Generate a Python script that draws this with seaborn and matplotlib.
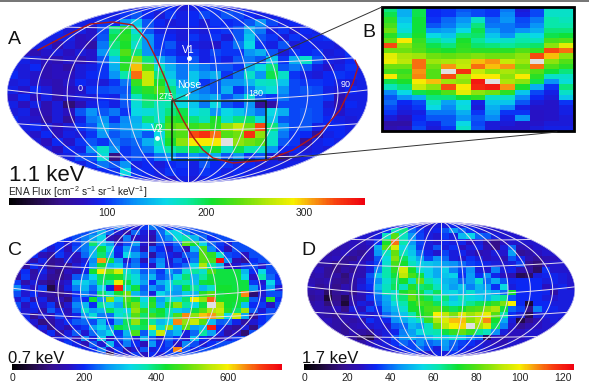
import numpy as np
import seaborn as sns
import matplotlib
matplotlib.use('Agg')
import matplotlib.pyplot as plt
from matplotlib.colors import LinearSegmentedColormap
from matplotlib.patches import Ellipse, Rectangle

sns.set_theme(style='white')
plt.rcParams['font.family'] = ['Liberation Sans', 'DejaVu Sans']
plt.rcParams['mathtext.default'] = 'regular'

# 1.1 keV flux
flux_a = [
    [90,90,90,90,90,90,90,90, 90,90,90,90,95,100,95,85, 90,95,100,90,90,90,90,90, 90,90,90,90,90,90,90,90],
    [90,90,90,90,90,90,90,90, 90,90,100,110,95,85,100,90, 95,105,100,110,105,95,90,90, 90,90,90,90,90,90,90,90],
    [90,90,90,90,90,95,90,90, 100,95,130,150,110,95,85,90, 95,85,100,95,100,110,130,105, 90,95,90,90,90,90,90,90],
    [90,90,90,90,95,85,90,80, 105,190,210,165,110,90,90,85, 90,85,95,100,110,140,120,90, 100,85,95,90,90,90,90,90],
    [90,90,90,90,90,90,75,80, 110,200,215,180,130,100,95,85, 100,90,100,85,110,150,110,100, 85,100,90,95,100,90,90,90],
    [90,85,90,90,70,85,75,65, 120,190,210,170,130,100,110,90, 90,85,80,100,120,160,100,90, 110,85,95,90,90,85,90,90],
    [90,75,70,80,85,75,85,80, 130,180,230,190,130,105,100,90, 100,90,105,100,100,130,140,110, 85,100,95,100,85,90,100,90],
    [90,90,85,75,70,80,70,80, 110,150,210,250,190,140,120,100, 110,90,100,90,110,120,110,150, 100,140,170,110,90,85,95,90],
    [90,85,95,70,75,65,85,90, 100,140,215,300,230,170,140,120, 130,120,110,110,100,140,160,190, 110,120,110,90,80,90,100,90],
    [95,85,80,70,75,75,85,95, 100,130,180,320,270,190,150,120, 150,130,140,100,120,170,130,200, 170,100,90,85,95,100,95,90],
    [85,90,80,75,70,80,95,90, 85,100,120,220,270,210,170,130, 150,100,110,130,130,145,170,175, 150,105,100,100,95,90,85,90],
    [90,80,95,85,70,75,80,100, 105,110,110,200,215,230,190,150, 130,120,110,140,100,120,150,165, 130,105,110,105,90,85,95,90],
    [80,95,75,90,70,80,85,85, 95,90,115,175,200,205,185,165, 140,130,140,110,125,165,110,100, 120,105,105,105,100,70,90,90],
    [90,75,90,70,85,45,70,90, 100,90,110,165,190,175,180,160, 150,120,160,110,100,130,60,65, 105,105,105,105,85,70,95,90],
    [85,90,75,70,85,75,110,130, 110,120,100,160,165,170,190,200, 160,170,130,160,150,135,120,160, 140,105,110,105,90,80,90,90],
    [95,85,80,65,85,60,90,120, 130,100,125,140,190,170,215,210, 190,175,210,170,190,195,165,150, 110,105,110,105,95,90,85,90],
    [90,90,95,85,75,85,100,110, 140,120,130,145,160,190,230,240, 220,230,215,250,270,240,330,190, 130,105,110,90,95,95,90,90],
    [90,85,80,95,75,90,85,100, 130,110,120,130,110,160,220,230, 330,340,320,230,240,340,250,170, 120,100,95,60,90,95,90,90],
    [90,90,85,75,95,80,100,110, 100,120,110,115,140,170,210,250, 290,290,290,400,250,240,230,170, 110,100,60,90,95,90,90,90],
    [85,90,95,85,75,95,90,130, 170,130,100,110,120,160,180,190, 200,190,210,170,200,180,170,130, 95,95,85,90,85,90,90,90],
    [90,85,90,95,85,90,105,110, 165,50,100,110,100,120,130,110, 130,120,140,110,130,100,110,85, 60,85,90,95,90,90,90,90],
    [90,90,85,95,90,100,90,100, 120,110,130,90,95,85,95,100, 90,110,95,100,90,95,85,90, 90,90,90,90,90,90,90,90],
    [90,90,90,90,90,90,90,90, 95,100,160,100,95,90,100,95, 90,100,95,90,95,90,90,90, 90,90,90,90,90,90,90,90],
    [90,90,90,90,90,90,90,90, 90,90,90,95,90,85,80,90, 85,90,95,90,90,90,90,90, 90,90,90,90,90,90,90,90],
]

# 0.7 keV flux, panel C
flux_c = [
    [220,220,220,220,220,220,220,220, 220,220,220,220,250,200,170,210, 250,230,200,220,220,220,220,220, 220,220,220,220,220,220,220,220],
    [220,220,220,220,220,220,220,220, 220,250,300,240,170,140,240,180, 160,240,320,330,260,220,220,220, 220,220,220,220,220,220,220,220],
    [220,220,220,220,220,220,200,220, 250,280,330,150,130,250,160,170, 140,230,260,340,370,300,240,200, 220,220,220,220,220,220,220,220],
    [220,220,220,220,190,200,170,210, 250,400,330,280,170,220,280,170, 130,220,200,240,480,430,330,240, 210,180,220,220,220,220,220,220],
    [220,220,220,210,170,200,150,220, 250,300,420,340,200,280,230,150, 230,200,160,220,150,300,470,260, 200,150,220,220,220,220,220,220],
    [220,220,200,150,130,210,170,160, 240,300,400,300,190,330,280,230, 130,220,190,170,230,240,480,450, 350,220,210,160,220,220,220,220],
    [200,170,140,190,120,130,180,150, 180,260,640,420,280,170,240,150, 220,260,170,230,190,250,480,470, 730,260,150,120,200,220,220,220],
    [190,130,200,170,110,140,120,170, 200,280,420,300,320,220,250,200, 160,270,180,210,240,330,540,380, 300,150,170,210,220,170,220,220],
    [160,200,130,190,140,100,160,140, 190,430,590,500,570,350,300,230, 250,210,280,240,350,380,350,470, 420,420,420,300,200,330,220,220],
    [130,210,140,170,120,110,140,230, 250,330,410,420,440,380,340,260, 300,220,250,330,400,300,380,420, 420,420,420,330,160,370,240,200],
    [210,140,180,130,100,150,170,300, 320,290,400,380,590,420,340,280, 200,290,320,380,370,310,420,430, 420,420,420,420,210,170,330,210],
    [260,190,160,210,60,130,190,250, 300,240,330,190,720,360,420,230, 270,240,320,280,420,380,300,350, 430,430,420,420,270,190,290,170],
    [220,170,200,150,130,110,140,200, 260,220,400,350,430,500,300,250, 180,330,290,270,320,300,440,480, 420,430,430,650,90,170,220,220],
    [170,210,140,190,120,150,100,220, 200,430,270,520,340,470,420,330, 430,280,350,340,400,590,520,670, 430,430,430,430,230,190,450,200],
    [220,160,200,170,210,120,170,260, 300,200,380,330,290,440,500,360, 450,300,420,510,380,330,420,800, 540,430,420,310,200,210,160,220],
    [210,170,190,140,230,190,150,240, 350,280,300,410,360,330,520,450, 400,430,370,320,300,420,480,540, 560,440,400,530,230,170,220,210],
    [220,190,120,170,150,210,160,190, 270,340,250,240,340,370,480,400, 460,420,380,470,650,520,620,640, 540,330,560,290,120,200,220,220],
    [220,200,170,100,130,170,200,230, 240,220,300,200,280,410,520,420, 380,300,330,650,520,560,480,300, 230,240,190,130,170,200,220,220],
    [220,220,150,190,110,170,140,190, 210,280,330,270,420,400,390,410, 560,350,520,320,480,280,300,720, 200,150,120,180,100,220,220,220],
    [220,220,210,160,200,130,180,230, 170,240,290,330,210,300,470,230, 340,560,260,300,180,240,380,280, 190,130,160,90,220,220,220,220],
    [220,220,220,190,150,180,200,150, 260,180,320,160,220,270,180,300, 230,170,240,200,170,310,200,170, 150,180,210,220,220,220,220,220],
    [220,220,220,220,220,170,210,190, 150,230,170,300,190,250,200,150, 270,190,220,160,260,220,170,200, 220,220,220,220,220,220,220,220],
    [220,220,220,220,220,220,220,220, 190,200,250,160,210,140,170,230, 180,200,210,650,220,190,220,220, 220,220,220,220,220,220,220,220],
    [220,220,220,220,220,220,220,220, 220,220,220,60,190,170,210,160, 200,170,210,220,220,220,220,220, 220,220,220,220,220,220,220,220],
]

# 1.7 keV flux, panel D
flux_d = [
    [28,28,28,28,28,28,28,28, 30,30,30,35,33,30,28,30, 30,32,30,30,28,28,28,28, 28,28,28,28,28,28,28,28],
    [28,28,28,28,28,28,28,28, 28,35,60,65,40,35,30,32, 38,45,40,35,30,28,28,28, 28,28,28,28,28,28,28,28],
    [28,28,28,28,28,28,28,28, 30,60,80,60,45,36,30,28, 35,30,50,55,40,38,30,28, 28,28,28,28,28,28,28,28],
    [28,28,28,26,24,26,25,28, 34,72,110,62,45,36,30,28, 32,30,32,26,30,22,18,26, 28,28,28,28,28,28,28,28],
    [28,26,24,22,24,26,24,26, 48,80,95,55,50,35,30,38, 30,34,26,30,32,24,18,30, 40,24,26,28,28,28,28,28],
    [26,26,22,24,26,22,20,26, 45,60,82,60,52,40,32,28, 36,30,32,28,24,26,30,28, 46,20,22,26,28,28,28,28],
    [24,22,24,26,20,18,24,26, 38,56,85,68,56,48,36,44, 40,30,28,34,30,26,28,24, 38,32,24,20,24,26,28,28],
    [24,22,22,18,20,24,26,30, 36,58,78,72,60,54,52,50, 46,44,40,36,34,32,30,28, 30,36,20,16,26,28,28,28],
    [24,26,20,18,22,20,24,30, 42,62,75,95,72,58,54,48, 54,42,36,44,30,28,42,30, 32,24,22,14,34,28,28,28],
    [22,24,20,22,16,24,24,38, 52,62,70,92,78,70,54,48, 52,54,34,46,34,44,32,26, 24,12,14,30,32,32,30,28],
    [24,22,24,20,18,22,28,36, 44,58,66,72,60,82,62,56, 50,48,40,46,58,40,48,38, 32,33,33,33,30,32,30,28],
    [26,20,22,18,24,22,30,34, 50,60,68,60,74,66,68,60, 52,46,52,42,50,46,34,56, 30,33,33,33,26,30,32,28],
    [22,24,14,20,22,18,26,30, 44,62,58,72,78,70,60,68, 54,56,50,58,50,52,48,40, 72,33,33,33,32,22,30,30],
    [20,22,8,18,12,22,24,34, 40,48,62,66,82,74,68,60, 66,52,60,56,54,50,58,64, 38,33,33,33,30,28,30,30],
    [22,24,16,20,8,24,30,28, 38,46,56,62,72,78,76,68, 62,56,58,64,68,70,76,84, 100,33,8,33,33,30,30,30],
    [24,24,22,26,18,30,26,36, 32,44,50,58,72,72,78,80, 74,68,72,78,80,86,90,70, 40,36,18,42,33,32,30,30],
    [26,24,22,20,24,26,30,28, 30,40,46,52,62,72,76,100, 92,84,96,88,92,98,80,62, 34,30,12,30,30,30,30,28],
    [26,24,26,22,24,22,24,34, 30,32,44,48,54,60,76,90, 96,104,104,86,92,108,72,48, 30,10,18,24,28,30,28,28],
    [26,26,24,22,20,24,26,28, 30,28,38,40,50,46,60,82, 92,100,102,140,88,96,68,42, 28,20,24,26,28,28,28,28],
    [28,26,24,22,20,24,22,20, 28,30,32,42,46,56,60,62, 70,76,82,76,64,60,44,30, 26,26,28,28,28,28,28,28],
    [28,28,26,22,24,20,14,10, 24,30,38,44,48,44,50,56, 52,58,52,44,40,12,26,22, 24,26,28,28,28,28,28,28],
    [28,28,26,26,24,26,22,26, 28,30,34,40,36,44,40,42, 46,40,36,34,30,28,26,24, 28,28,28,28,28,28,28,28],
    [28,28,28,28,28,28,28,28, 28,28,30,34,36,40,36,30, 44,38,34,30,30,28,28,28, 28,28,28,28,28,28,28,28],
    [28,28,28,28,28,28,28,28, 28,28,28,30,34,30,28,32, 30,34,30,28,28,28,28,28, 28,28,28,28,28,28,28,28],
]

# zoomed box, panel B
flux_b = [
    [190,140,200,95,100,110,105,100,120,85,105,170,170],
    [200,140,200,95,100,115,105,100,125,90,105,170,170],
    [215,150,205,100,115,130,170,115,130,105,120,180,175],
    [225,160,205,110,120,140,190,120,120,110,130,180,180],
    [240,165,205,130,135,160,200,135,120,130,140,190,190],
    [215,185,210,160,150,190,195,150,130,170,160,200,205],
    [235,290,220,185,170,210,185,165,170,180,175,225,230],
    [330,250,225,200,190,215,195,190,185,190,195,250,280],
    [240,240,230,215,210,220,215,215,215,230,220,330,320],
    [280,260,255,240,235,240,245,240,240,250,330,300,250],
    [285,265,320,255,260,265,300,310,270,255,400,250,230],
    [240,240,320,240,310,270,320,300,310,240,320,230,215],
    [225,220,310,230,400,340,270,250,260,250,230,205,190],
    [290,230,315,230,330,260,290,290,250,290,215,170,170],
    [200,210,290,300,255,250,350,400,260,250,200,130,165],
    [175,190,270,250,330,290,345,350,310,210,140,100,190],
    [125,160,200,210,230,280,250,240,215,150,105,90,170],
    [110,130,140,190,190,205,215,170,170,125,95,85,150],
    [115,95,105,170,135,160,90,150,150,110,85,80,100],
    [105,90,100,160,125,165,85,140,125,90,80,80,90],
    [100,85,90,120,120,140,100,135,100,100,78,80,90],
    [85,75,95,110,110,130,110,125,90,130,78,80,85],
    [65,65,100,90,110,160,105,85,85,80,80,85,85],
    [70,75,105,85,100,170,110,85,80,80,85,90,90],
]

ticks_a = [100, 200, 300]
ticks_c = [0, 200, 400, 600]
ticks_d = [0, 20, 40, 60, 80, 100, 120]

# dark red curve over panel A, figure pixels
ribbon_x = [38, 67, 90, 113, 133, 147, 157, 167, 173, 183, 193, 203, 213, 233, 267, 293, 320, 340, 353, 358, 355]
ribbon_y = [50, 35, 24, 22, 25, 40, 60, 83, 100, 120, 137, 150, 158, 163, 160, 150, 133, 110, 83, 67, 60]

W, H = 589, 389
cmap = LinearSegmentedColormap.from_list('ena', [
    (0, '#000000'), (0.07, '#200a40'), (0.14, '#35108a'), (0.21, '#2a10c0'),
    (0.265, '#0a28f5'), (0.35, '#0890f8'), (0.44, '#08d8e8'), (0.50, '#08e8a8'),
    (0.57, '#10e030'), (0.65, '#60e010'), (0.73, '#b8e808'), (0.80, '#f8f000'),
    (0.85, '#f8a010'), (0.92, '#f84010'), (1, '#f00010')])
cmap.set_over('#e0e0e0')

def px_axes(fig, x0, y0, x1, y1):
    return fig.add_axes([x0 / W, 1 - y1 / H, (x1 - x0) / W, (y1 - y0) / H])

def draw_map(fig, box, flux, vmax, cbar_box, ticks):
    ax = px_axes(fig, *box)
    cax = px_axes(fig, *cbar_box)
    sns.heatmap(np.array(flux), ax=ax, cmap=cmap, vmin=0, vmax=vmax, cbar=True, cbar_ax=cax,
                cbar_kws={'orientation': 'horizontal', 'ticks': ticks},
                xticklabels=False, yticklabels=False)
    nrow, ncol = np.array(flux).shape
    clip = Ellipse((ncol / 2, nrow / 2), ncol, nrow, transform=ax.transData)
    ax.collections[0].set_clip_path(clip)

    # graticule, slightly sagging parallels like the original
    cx, cy, a, b = ncol / 2, nrow / 2, ncol / 2, nrow / 2
    t = np.linspace(-1, 1, 200)
    for lon in range(-180, 181, 30):
        ax.plot(cx + a * lon / 180 * np.sqrt(1 - t ** 2), cy + b * t, color='#e4def0', lw=0.7)
    s = np.linspace(-1, 1, 200)
    for lat in [-0.72, -0.37, 0, 0.37, 0.72]:
        sag = 0.12 * (1 - abs(lat)) * (1 - s ** 2)
        ax.plot(cx + a * s, cy + b * (lat - 0.04 + sag), color='#e4def0', lw=0.7)
    for line in ax.lines:
        line.set_clip_path(clip)
    ax.set_axis_off()

    cax.tick_params(axis='x', direction='in', length=6, width=1, color='white',
                    labelsize=7.5, pad=2, bottom=True, labelcolor='#222222')
    for spine in cax.spines.values():
        spine.set_visible(False)
    return ax

fig = plt.figure(figsize=(W / 100, H / 100), dpi=100)

draw_map(fig, (7, 4, 368, 183), flux_a, 362, (9, 198, 365, 205), ticks_a)
draw_map(fig, (13, 224, 283, 358), flux_c, 750, (12, 364, 282, 370), ticks_c)
draw_map(fig, (307, 222, 575, 357), flux_d, 125, (304, 364, 574, 370), ticks_d)

ax_b = px_axes(fig, 382, 7, 574, 131)
sns.heatmap(np.array(flux_b), ax=ax_b, cmap=cmap, vmin=0, vmax=362, cbar=False,
            xticklabels=False, yticklabels=False)
ax_b.set_axis_off()

# overlay in figure pixels for labels and connector lines
ov = fig.add_axes([0, 0, 1, 1], facecolor='none')
ov.set_xlim(0, W)
ov.set_ylim(H, 0)
ov.set_axis_off()

ov.add_patch(Rectangle((0, 0), W, 1.5, color='#777777', lw=0))
ov.plot(ribbon_x, ribbon_y, color='#b01818', lw=1.0)
ov.add_patch(Rectangle((172, 101), 94, 59, fill=False, ec='#102010', lw=1.1))
ov.add_patch(Rectangle((382, 7), 192, 124, fill=False, ec='black', lw=2))
ov.plot([172, 382], [101, 7], color='#333333', lw=0.7)
ov.plot([266, 557], [160, 132], color='#333333', lw=0.7)

for s, x, y in [('A', 8, 44), ('B', 362, 37), ('C', 8, 255), ('D', 301, 255)]:
    ov.text(x, y, s, fontsize=14, color='#111111', va='baseline')
ov.text(9, 181, '1.1 keV', fontsize=16, color='#111111', va='baseline')
ov.text(8, 196, 'ENA Flux [cm$^{-2}$ s$^{-1}$ sr$^{-1}$ keV$^{-1}$]', fontsize=7.3,
        color='#222222', va='baseline')
ov.text(8, 363, '0.7 keV', fontsize=12, color='#111111', va='baseline')
ov.text(302, 363, '1.7 keV', fontsize=12, color='#111111', va='baseline')

for s, x, y, fs in [('V1', 188, 50, 7.5), ('Nose', 189, 85, 7.5), ('275', 166, 96, 6.5),
                    ('180', 256, 93, 6.5), ('90', 346, 84, 6.5), ('0', 80, 88, 6.5),
                    ('V2', 157, 129, 7.5)]:
    ov.text(x, y, s, fontsize=fs, color='white', ha='center', va='center')
ov.plot([189, 157], [58, 138], 'o', color='white', ms=3.5, mew=0)
ov.plot([186, 190], [96, 93], color='white', lw=1)

fig.savefig('out.png', dpi=100)
